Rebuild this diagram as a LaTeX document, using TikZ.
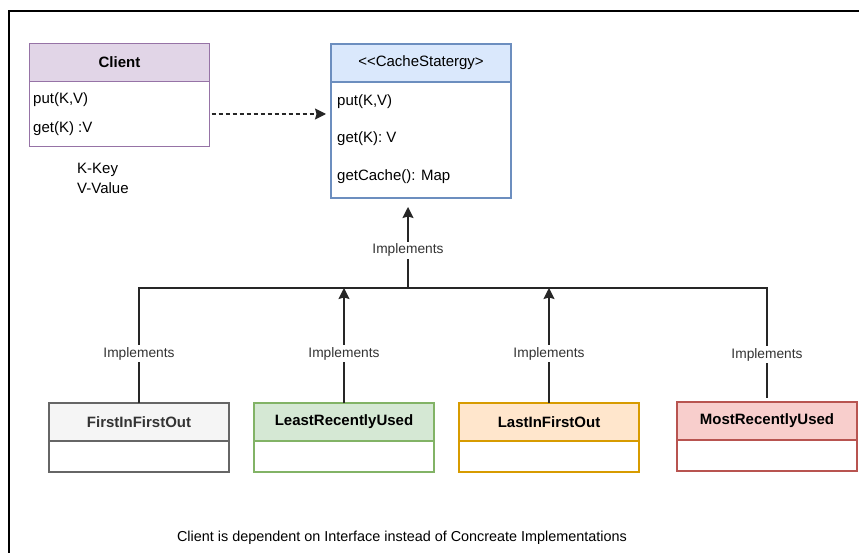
\documentclass[tikz,border=0pt]{standalone}
\usepackage{fontspec}
\setmainfont{Liberation Sans}[Ligatures=TeXOff]
\usetikzlibrary{arrows.meta}
\definecolor{clientfill}{HTML}{E1D5E7}
\definecolor{clientline}{HTML}{9673A6}
\definecolor{cachefill}{HTML}{DAE8FC}
\definecolor{cacheline}{HTML}{6C8EBF}
\definecolor{fifofill}{HTML}{F5F5F5}
\definecolor{fifoline}{HTML}{666666}
\definecolor{lrufill}{HTML}{D5E8D4}
\definecolor{lruline}{HTML}{82B366}
\definecolor{lifofill}{HTML}{FFE6CC}
\definecolor{lifoline}{HTML}{D79B00}
\definecolor{mrufill}{HTML}{F8CECC}
\definecolor{mruline}{HTML}{B85450}
\begin{document}
\begin{tikzpicture}[x=1pt,y=-1pt,
    head/.style={draw,line width=1.2pt,outer sep=0pt,inner sep=0pt,
      minimum width=180pt,minimum height=38pt,
      font=\bfseries\fontsize{15}{18}\selectfont},
    body/.style={draw,line width=1.2pt,outer sep=0pt,inner sep=0pt,
      fill=white,minimum width=180pt,anchor=north},
    member/.style={anchor=west,inner sep=0pt,font=\fontsize{15}{18}\selectfont},
    impl/.style={fill=white,inner sep=2pt,text=black!80,
      font=\fontsize{13.75}{16}\selectfont},
    link/.style={draw=black!85,line width=1.3pt},
    blocktip/.style={-{Stealth[length=11pt,width=11pt,inset=1.5pt]}}]
  \useasboundingbox (0,0) rectangle (859,553);
  \draw [line width=2.6pt] (9,553) -- (9,11) -- (859,11);
  % client and interface
  \node [head,fill=clientfill,draw=clientline] (client) at (119.5,62.5) {Client};
  \node [body,draw=clientline,minimum height=65pt] (clientbody) at (client.south) {};
  \node [member] (put1) at (33,100) {put(K,V)};
  \node [member] (get1) at (33,129) {get(K) :V};
  \node [member] (key) at (77,170) {K-Key};
  \node [member] (value) at (77,188) {V-Value};
  \node [head,fill=cachefill,draw=cacheline,font=\fontsize{15}{18}\selectfont] (cache) at (421,63)
    {<<CacheStatergy>};
  \node [body,draw=cacheline,minimum height=116pt] (cachebody) at (cache.south) {};
  \node [member] (put2) at (337,102) {put(K,V)};
  \node [member] (get2) at (337,139) {get(K): V};
  \node [member] (getmap) at (337,177) {getCache(): Map};
  % implementations
  \node [head,fill=fifofill,draw=fifoline,text=black!80] (fifo) at (139,422) {FirstInFirstOut};
  \node [body,draw=fifoline,minimum height=31pt] (fifobody) at (fifo.south) {};
  \node [head,fill=lrufill,draw=lruline] (lru) at (344,422) {LeastRecentlyUsed};
  \node [body,draw=lruline,minimum height=31pt] (lrubody) at (lru.south) {};
  \node [head,fill=lifofill,draw=lifoline] (lifo) at (549,422) {LastInFirstOut};
  \node [body,draw=lifoline,minimum height=31pt] (lifobody) at (lifo.south) {};
  \node [head,fill=mrufill,draw=mruline] (mru) at (767,421) {MostRecentlyUsed};
  \node [body,draw=mruline,minimum height=31pt] (mrubody) at (mru.south) {};
  \coordinate (bus) at (408,288);
  \draw [link,dashed,dash pattern=on 4pt off 3pt,blocktip,shorten <=2pt,shorten >=5pt] (clientbody.east) -- (clientbody.east -| cachebody.west);
  \draw [link,blocktip,shorten >=9pt] (bus) -- node [impl,pos=0.42] {Implements} (bus |- cachebody.south);
  \draw [link,shorten >=4pt] (fifo.north) -- node [impl,pos=0.43] {Implements} (fifo.north |- bus)
    -- (mru.north |- bus) -- node [impl,pos=0.585] {Implements} (mru.north);
  \draw [link,blocktip] (lru.north) -- node [impl,pos=0.43] {Implements} (lru.north |- bus);
  \draw [link,blocktip] (lifo.north) -- node [impl,pos=0.43] {Implements} (lifo.north |- bus);
  \node [font=\fontsize{14.4}{17}\selectfont] (note) at (402,538)
    {Client is dependent on Interface instead of Concreate Implementations};
\end{tikzpicture}
\end{document}
